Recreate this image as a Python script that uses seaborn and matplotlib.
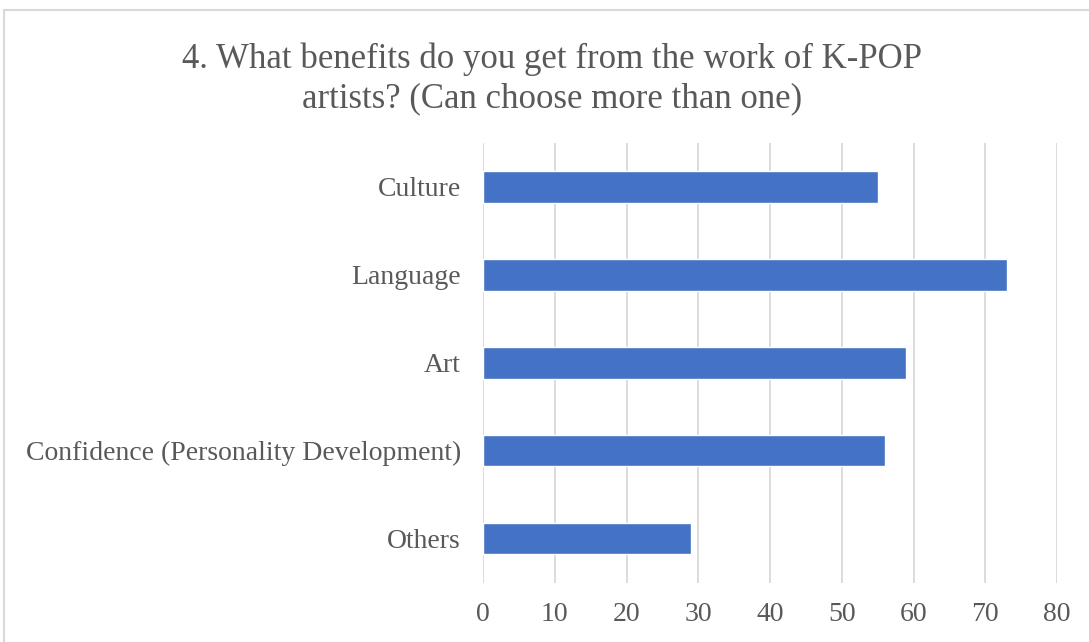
import matplotlib
matplotlib.use("Agg")
import matplotlib.pyplot as plt
from matplotlib.lines import Line2D
import seaborn as sns
import pandas as pd

categories = ["Culture", "Language", "Art", "Confidence (Personality Development)", "Others"]
counts = [55, 73, 59, 56, 29]
x_ticks = [0, 10, 20, 30, 40, 50, 60, 70, 80]
title = "4. What benefits do you get from the work of K-POP\nartists? (Can choose more than one)"

sns.set_theme(style="white")
plt.rcParams["font.family"] = ["Liberation Serif", "DejaVu Serif"]

text_color = "#595959"
bar_color = "#4472C4"
grid_color = "#d9d9d9"

df = pd.DataFrame({"category": categories, "count": counts})

fig = plt.figure(figsize=(10.89, 6.42), dpi=100)
ax = fig.add_axes([483 / 1089, 1 - 582.5 / 642, (1057 - 483) / 1089, (582.5 - 143) / 642])

sns.barplot(data=df, y="category", x="count", orient="h", color=bar_color,
            saturation=1, width=0.36, ax=ax, zorder=3)

ax.set_xlim(0, 80)
ax.set_xticks(x_ticks)
ax.set_xticklabels([str(t) for t in x_ticks])
ax.xaxis.grid(True, color=grid_color, linewidth=1.3, zorder=0)
ax.yaxis.grid(False)
for s in ax.spines.values():
    s.set_visible(False)
ax.set_xlabel("")
ax.set_ylabel("")
ax.tick_params(axis="both", length=0, colors=text_color, labelsize=20)
ax.tick_params(axis="y", pad=16)
ax.tick_params(axis="x", pad=14)
ax.set_facecolor("none")

fig.text(0.507, 1 - 79 / 642, title, ha="center", va="center", fontsize=25,
         color=text_color, linespacing=1.25)

# chart area outline
fig.add_artist(Line2D([4 / 1089, 1], [1 - 10 / 642, 1 - 10 / 642], transform=fig.transFigure,
                      color=grid_color, linewidth=1.5))
fig.add_artist(Line2D([4 / 1089, 4 / 1089], [0, 1 - 10 / 642], transform=fig.transFigure,
                      color=grid_color, linewidth=1.5))

fig.savefig("out.png", dpi=100, facecolor="white")
